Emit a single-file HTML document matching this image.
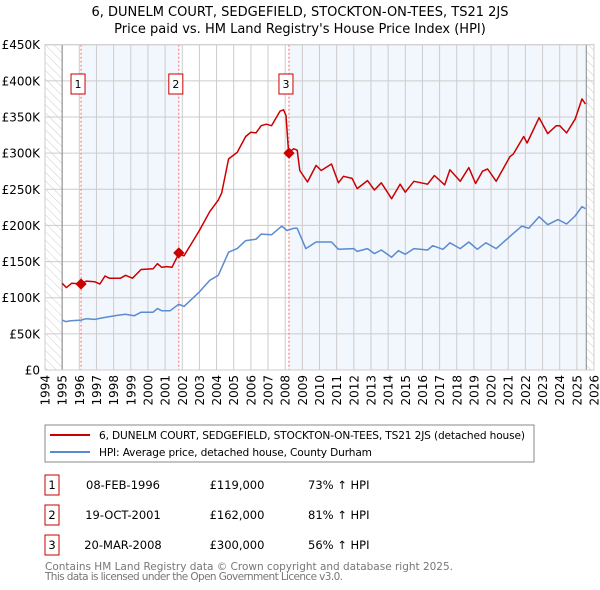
<!DOCTYPE html>
<html><head><meta charset="utf-8"><style>
body{margin:0;background:#fff;}
svg{display:block;font-family:"DejaVu Sans","Liberation Sans",sans-serif;}
</style></head><body>
<svg id="chart" width="600" height="590" viewBox="0 0 600 590">
<text x="300" y="16" text-anchor="middle" font-size="13">6, DUNELM COURT, SEDGEFIELD, STOCKTON-ON-TEES, TS21 2JS</text>
<text x="300" y="33" text-anchor="middle" font-size="13">Price paid vs. HM Land Registry's House Price Index (HPI)</text>
<defs><pattern id="hatch" width="6" height="6" patternUnits="userSpaceOnUse" patternTransform="rotate(-45)"><line x1="0" y1="0" x2="0" y2="6" stroke="#ccc" stroke-width="1"/></pattern></defs>
<g id="plot"></g>
<rect x="45" y="425" width="489" height="37" fill="#fff" stroke="#888"/>
<line x1="50" y1="435" x2="90" y2="435" stroke="#cc0000" stroke-width="2"/>
<text x="99" y="439" font-size="10.6" textLength="426">6, DUNELM COURT, SEDGEFIELD, STOCKTON-ON-TEES, TS21 2JS (detached house)</text>
<line x1="50" y1="452" x2="90" y2="452" stroke="#5b8bd0" stroke-width="2"/>
<text x="99" y="456" font-size="10.6" textLength="273">HPI: Average price, detached house, County Durham</text>
<g font-size="11.5">
<rect x="45" y="475" width="14" height="20" fill="none" stroke="#cc0000"/><text x="52" y="489" text-anchor="middle">1</text>
<text x="123" y="489" text-anchor="middle">08-FEB-1996</text>
<text x="237" y="489" text-anchor="middle">£119,000</text>
<text x="308" y="489">73% ↑ HPI</text>
<rect x="45" y="505" width="14" height="20" fill="none" stroke="#cc0000"/><text x="52" y="519" text-anchor="middle">2</text>
<text x="123" y="519" text-anchor="middle">19-OCT-2001</text>
<text x="237" y="519" text-anchor="middle">£162,000</text>
<text x="308" y="519">81% ↑ HPI</text>
<rect x="45" y="535" width="14" height="20" fill="none" stroke="#cc0000"/><text x="52" y="549" text-anchor="middle">3</text>
<text x="123" y="549" text-anchor="middle">20-MAR-2008</text>
<text x="237" y="549" text-anchor="middle">£300,000</text>
<text x="308" y="549">56% ↑ HPI</text>
</g>
<text x="45" y="570" font-size="10.5" fill="#777" textLength="408">Contains HM Land Registry data © Crown copyright and database right 2025.</text>
<text x="45" y="580" font-size="10.5" fill="#777" textLength="298">This data is licensed under the Open Government Licence v3.0.</text>
</svg>
<script>
const yTicks=[0,50,100,150,200,250,300,350,400,450];
const yTickLabels=["£0","£50K","£100K","£150K","£200K","£250K","£300K","£350K","£400K","£450K"];
const xYears=[1994,1995,1996,1997,1998,1999,2000,2001,2002,2003,2004,2005,2006,2007,2008,2009,2010,2011,2012,2013,2014,2015,2016,2017,2018,2019,2020,2021,2022,2023,2024,2025,2026];
const saleYears=[1996.1,2001.8,2008.22];
const salePrices=[119,162,300];
const saleLabels=["1","2","3"];
const hpiYears=[1995,1995.2,1995.5,1996.1,1996.4,1996.9,1997.3,1997.8,1998.3,1998.7,1999.2,1999.6,2000.3,2000.55,2000.8,2001.3,2001.8,2002.1,2003,2003.6,2004.1,2004.7,2005.2,2005.7,2006.3,2006.6,2007.2,2007.8,2008.1,2008.5,2008.7,2009.2,2009.8,2010.7,2011.1,2012,2012.2,2012.8,2013.2,2013.6,2014.2,2014.6,2015,2015.5,2016.3,2016.6,2017.2,2017.6,2018.2,2018.7,2019.2,2019.7,2020.3,2021.2,2021.8,2022.2,2022.8,2023.3,2023.9,2024.4,2024.9,2025.3,2025.5];
const hpiValues=[69,67,68,69,71,70,72,74,76,77,75,80,80,85,82,82,91,88,108,124,131,163,168,179,181,188,187,199,193,196,196,168,177,177,167,168,164,168,161,166,156,165,160,168,166,172,167,176,168,177,167,176,168,187,199,196,212,201,208,202,213,226,223];
const priceYears=[1995,1995.25,1995.55,1996.1,1996.4,1996.9,1997.2,1997.5,1997.75,1998.4,1998.7,1999.1,1999.6,2000.3,2000.55,2000.8,2001.1,2001.4,2001.8,2002.1,2003,2003.6,2004.1,2004.3,2004.7,2005.2,2005.7,2006.0,2006.3,2006.6,2006.9,2007.2,2007.7,2007.9,2008.05,2008.2,2008.5,2008.7,2008.85,2009.3,2009.8,2010.1,2010.7,2011.1,2011.4,2011.9,2012.2,2012.8,2013.2,2013.6,2014.2,2014.7,2015,2015.5,2016.3,2016.7,2017.3,2017.6,2018.2,2018.7,2019.1,2019.5,2019.8,2020.3,2021.1,2021.3,2021.9,2022.1,2022.8,2023.3,2023.8,2024.0,2024.4,2024.9,2025.3,2025.5];
const priceValues=[120,114,120,119,123,122,119,130,127,127,131,127,139,140,147,142,143,142,161,158,193,219,235,245,292,301,323,329,328,338,340,338,358,360,352,301,306,304,276,260,283,276,285,259,268,265,251,262,249,259,237,257,246,261,257,269,256,277,261,280,258,275,278,261,295,299,323,314,349,327,338,338,328,347,375,368];

const NS="http://www.w3.org/2000/svg";
const L=45,R=594,T=44.7,B=370;
const x0=1994,x1=2026,dataStart=1995,dataEnd=2025.55;
const xs=y=>L+(y-x0)/(x1-x0)*(R-L);
const ys=v=>B-v/450*(B-T);
const plot=document.getElementById('plot');
function mk(tag,attrs,parent){const e=document.createElementNS(NS,tag);for(const k in attrs)e.setAttribute(k,attrs[k]);(parent||plot).appendChild(e);return e;}

const bg=mk('rect',{x:L,y:T,width:R-L,height:B-T,fill:'#fff'});


const h1=mk('rect',{x:L,y:T,width:xs(dataStart)-L,height:B-T,fill:'url(#hatch)'});


const h2=mk('rect',{x:xs(dataEnd),y:T,width:R-xs(dataEnd),height:B-T,fill:'url(#hatch)'});


const sh1=mk('rect',{x:xs(saleYears[0]),y:T,width:xs(saleYears[1])-xs(saleYears[0]),height:B-T,fill:'#f2f6fd'});


const sh2=mk('rect',{x:xs(saleYears[2]),y:T,width:xs(dataEnd)-xs(saleYears[2]),height:B-T,fill:'#f2f6fd'});



yTicks.forEach((v,i)=>{
  const g=mk('line',{x1:L,x2:R,y1:ys(v),y2:ys(v),stroke:'#ccc','stroke-width':1});
  
  
  const t=mk('text',{x:L-5,y:ys(v)+4.5,'text-anchor':'end','font-size':12});
  t.textContent=yTickLabels[i];
  
  
});
xYears.forEach(yr=>{
  const g=mk('line',{x1:xs(yr),x2:xs(yr),y1:T,y2:B,stroke:'#ccc','stroke-width':1});
  
  
  const t=mk('text',{x:0,y:0,'text-anchor':'end','font-size':12,transform:`translate(${xs(yr)+4.5},${B+5}) rotate(-90)`});
  t.textContent=yr;
  
  
});
[dataStart,dataEnd].forEach(yr=>{
  const e=mk('line',{x1:xs(yr),x2:xs(yr),y1:T,y2:B,stroke:'#888','stroke-width':1});
  
  
});
saleYears.forEach((yr,i)=>{
  const l=mk('line',{x1:xs(yr),x2:xs(yr),y1:T,y2:B,stroke:'#f07070','stroke-width':1,'stroke-dasharray':'2,2'});
  
  
});
function path(xa,va,color,name){
  const d=xa.map((x,i)=>(i?'L':'M')+xs(x).toFixed(1)+','+ys(va[i]).toFixed(1)).join('');
  const p=mk('path',{d:d,fill:'none',stroke:color,'stroke-width':1.5,'stroke-linejoin':'round'});
  
  
}
path(hpiYears,hpiValues,'#5b8bd0','hpi-line');
path(priceYears,priceValues,'#cc0000','price-paid-line');
saleYears.forEach((yr,i)=>{
  const c=mk('rect',{x:xs(yr)-4,y:ys(salePrices[i])-4,width:8,height:8,fill:'#cc0000',transform:`rotate(45 ${xs(yr)} ${ys(salePrices[i])})`});
  
  
  const bx=mk('rect',{x:xs(yr)-10,y:74,width:14,height:20,fill:'#fff',stroke:'#cc0000'});
  
  
  const t=mk('text',{x:xs(yr)-3,y:88,'text-anchor':'middle','font-size':11});
  t.textContent=saleLabels[i];
  
  
});
const fr=mk('rect',{x:L,y:T,width:R-L,height:B-T,fill:'none',stroke:'#ccc'});


</script>
</body></html>
